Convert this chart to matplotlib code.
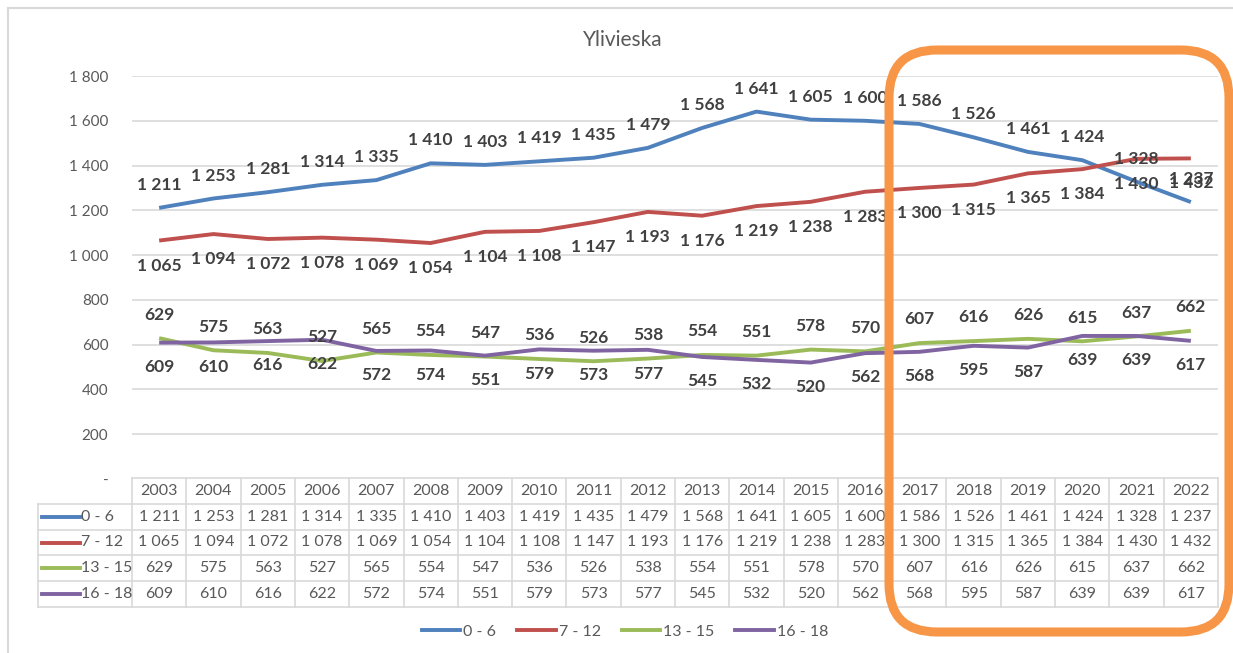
import matplotlib

matplotlib.use("Agg")
import matplotlib.pyplot as plt
from matplotlib.lines import Line2D
from matplotlib.patches import FancyBboxPatch
from matplotlib.transforms import Affine2D
import numpy as np

plt.rcParams["font.family"] = ["Lato", "DejaVu Sans"]

YEARS = [str(y) for y in range(2003, 2023)]
SERIES_NAMES = ["0 - 6", "7 - 12", "13 - 15", "16 - 18"]
AGE_0_6 = [1211, 1253, 1281, 1314, 1335, 1410, 1403, 1419, 1435, 1479,
           1568, 1641, 1605, 1600, 1586, 1526, 1461, 1424, 1328, 1237]
AGE_7_12 = [1065, 1094, 1072, 1078, 1069, 1054, 1104, 1108, 1147, 1193,
            1176, 1219, 1238, 1283, 1300, 1315, 1365, 1384, 1430, 1432]
AGE_13_15 = [629, 575, 563, 527, 565, 554, 547, 536, 526, 538,
             554, 551, 578, 570, 607, 616, 626, 615, 637, 662]
AGE_16_18 = [609, 610, 616, 622, 572, 574, 551, 579, 573, 577,
             545, 532, 520, 562, 568, 595, 587, 639, 639, 617]
Y_TICKS = [0, 200, 400, 600, 800, 1000, 1200, 1400, 1600, 1800]

COLORS = ["#4F81BD", "#C0504D", "#9BBB59", "#8064A2"]
LABEL_OFFSETS = [16.5, -18.0, 17.0, -17.5]  # points, above / below the point
TEXT_GRAY = "#595959"
LABEL_GRAY = "#404040"
GRID_GRAY = "#D9D9D9"

W, H = 1233, 653


def fmt(v: int) -> str:
    return "-" if v == 0 else f"{v:,}".replace(",", " ")


def px_rect(x0, y0, x1, y1):
    # pixel box (top-left origin) -> figure fraction [left, bottom, width, height]
    return [x0 / W, 1 - y1 / H, (x1 - x0) / W, (y1 - y0) / H]


series = [AGE_0_6, AGE_7_12, AGE_13_15, AGE_16_18]
x = np.arange(len(YEARS))

fig = plt.figure(figsize=(W / 100, H / 100), dpi=100)
fig.patch.set_facecolor("white")

# outer chart frame (top and left edges visible)
px = Affine2D().scale(1 / W, 1 / H) + fig.transFigure
fig.add_artist(Line2D([8, W], [H - 8, H - 8], transform=px, color=GRID_GRAY, lw=1.5))
fig.add_artist(Line2D([8, 8], [0, H - 8], transform=px, color=GRID_GRAY, lw=1.5))

ax = fig.add_axes(px_rect(132, 76, 1218, 479))
ax.set_xlim(-0.5, len(YEARS) - 0.5)
ax.set_ylim(0, 1800)
for s in ax.spines.values():
    s.set_visible(False)
ax.set_yticks(Y_TICKS)
ax.set_yticklabels([fmt(v) for v in Y_TICKS], color=TEXT_GRAY, fontsize=11)
ax.tick_params(axis="y", length=0, pad=17)
ax.set_xticks([])
for t in Y_TICKS[1:]:
    ax.axhline(t, color=GRID_GRAY, lw=1.2, zorder=0)

for vals, color, off in zip(series, COLORS, LABEL_OFFSETS):
    ax.plot(x, vals, color=color, lw=2.8, solid_capstyle="butt", zorder=2)
    for xi, v in zip(x, vals):
        ax.annotate(fmt(v), (xi, v), xytext=(0, off), textcoords="offset points",
                    ha="center", va="center", fontsize=12.5, fontweight="bold",
                    color=LABEL_GRAY, annotation_clip=False, zorder=3)

fig.text(623 / W, 1 - 40 / H, "Ylivieska", ha="center", va="center",
         fontsize=15, color=TEXT_GRAY)

# data table under the plot
label_cols = (132 - 38) / ((1218 - 132) / len(YEARS))
tab = fig.add_axes(px_rect(38, 478, 1218, 607))
tab.set_xlim(-0.5 - label_cols, len(YEARS) - 0.5)
tab.set_ylim(5, 0)
tab.axis("off")
line_kw = dict(color=GRID_GRAY, lw=1.2, clip_on=False)
tab.plot([-0.5, len(YEARS) - 0.5], [0, 0], **line_kw)
for r in range(1, 6):
    tab.plot([-0.5 - label_cols, len(YEARS) - 0.5], [r, r], **line_kw)
for c in range(len(YEARS) + 1):
    tab.plot([c - 0.5, c - 0.5], [0, 5], **line_kw)
tab.plot([-0.5 - label_cols] * 2, [1, 5], **line_kw)
for i, year in enumerate(YEARS):
    tab.text(i, 0.5, year, ha="center", va="center", fontsize=11.5, color=TEXT_GRAY)
seg = (80 - 42) / ((1218 - 132) / len(YEARS))
for r, (name, vals, color) in enumerate(zip(SERIES_NAMES, series, COLORS), start=1):
    x0 = -0.5 - label_cols + 4 / 54.3
    tab.plot([x0, x0 + seg], [r + 0.5, r + 0.5], color=color, lw=2.8, clip_on=False)
    tab.text(x0 + seg + 0.02, r + 0.5, name, ha="left", va="center",
             fontsize=11.5, color=TEXT_GRAY)
    for i, v in enumerate(vals):
        tab.text(i, r + 0.5, fmt(v), ha="center", va="center", fontsize=11.5,
                 color=TEXT_GRAY)

handles = [Line2D([], [], color=c, lw=2.8) for c in COLORS]
fig.legend(handles, SERIES_NAMES, loc="center", bbox_to_anchor=(625 / W, 1 - 632 / H),
           ncol=4, frameon=False, fontsize=11.5, labelcolor=TEXT_GRAY,
           handlelength=2.4, handletextpad=0.2, columnspacing=1.3)

# orange highlight box around 2017-2022
box = FancyBboxPatch((889, H - 632), 1229 - 889, 632 - 50,
                     boxstyle="round,pad=0,rounding_size=48", transform=px,
                     facecolor="none", edgecolor="#F79646", lw=6.5, zorder=10)
fig.add_artist(box)

fig.savefig("out.png", dpi=100)
